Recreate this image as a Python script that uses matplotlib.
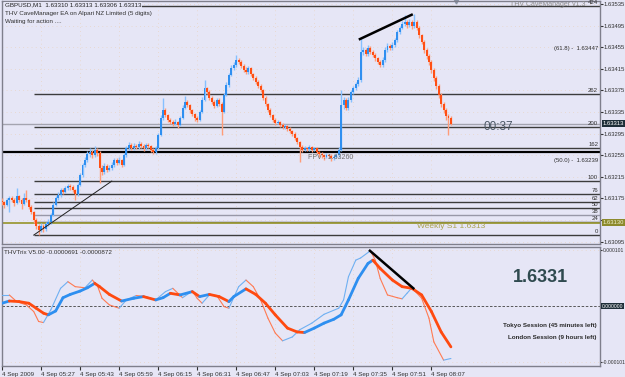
import numpy as np
import matplotlib.pyplot as plt
from matplotlib.collections import LineCollection

# ---- data (prices in points above 1.63000, one M1 bar each) ----
base = 1.63
first_open = 170
closes = [
    168, 163, 172, 176, 172, 166, 179, 172, 165, 176,
    172, 159, 150, 135, 124, 116, 124, 118, 128, 131,
    144, 163, 176, 181, 191, 187, 194, 198, 196, 191,
    183, 200, 218, 237, 246, 257, 261, 255, 265, 259,
    231, 224, 235, 228, 231, 237, 246, 241, 246, 237,
    255, 268, 274, 268, 272, 270, 276, 272, 268, 274,
    272, 265, 261, 268, 292, 324, 339, 329, 320, 317,
    313, 317, 311, 324, 342, 354, 348, 339, 331, 324,
    320, 335, 357, 379, 372, 361, 354, 346, 357, 350,
    335, 367, 385, 404, 417, 422, 431, 428, 420, 413,
    409, 417, 405, 398, 391, 383, 376, 361, 350, 339,
    329, 320, 315, 317, 311, 307, 309, 304, 300, 294,
    287, 279, 270, 265, 268, 266, 270, 265, 268, 261,
    257, 255, 252, 255, 254, 250, 252, 255, 265, 348,
    357, 342, 357, 372, 379, 387, 394, 446, 450, 442,
    454, 446, 441, 435, 428, 422, 431, 450, 457, 454,
    459, 468, 483, 491, 498, 502, 496, 502, 494, 502,
    491, 478, 465, 450, 439, 428, 413, 398, 383, 367,
    350, 339, 328, 324, 313]
highs = [
    176, 170, 176, 180, 179, 175, 195, 182, 175, 185,
    190, 174, 162, 152, 138, 128, 130, 127, 132, 136,
    148, 168, 180, 186, 195, 194, 198, 202, 201, 199,
    193, 204, 222, 241, 252, 263, 268, 265, 272, 268,
    262, 236, 240, 238, 236, 242, 250, 249, 251, 248,
    259, 272, 279, 277, 277, 276, 281, 279, 275, 278,
    277, 274, 268, 272, 296, 330, 361, 342, 332, 324,
    320, 322, 319, 328, 347, 365, 357, 350, 341, 334,
    327, 339, 362, 394, 382, 375, 364, 357, 361, 360,
    353, 371, 390, 408, 422, 428, 441, 435, 431, 424,
    418, 421, 419, 408, 401, 394, 386, 378, 364, 352,
    342, 332, 323, 321, 319, 314, 312, 311, 307, 302,
    297, 289, 282, 273, 272, 271, 274, 272, 271, 270,
    263, 260, 258, 259, 258, 257, 256, 259, 270, 376,
    362, 360, 362, 376, 384, 391, 399, 472, 456, 453,
    459, 457, 449, 444, 437, 431, 436, 455, 462, 460,
    464, 472, 487, 495, 503, 515, 505, 507, 505, 516,
    505, 494, 480, 468, 453, 442, 431, 416, 401, 386,
    370, 353, 342, 331, 328]
lows = [
    163, 158, 160, 150, 168, 160, 164, 168, 155, 162,
    168, 155, 146, 130, 118, 107, 112, 113, 115, 124,
    128, 142, 160, 172, 178, 183, 185, 191, 190, 186,
    172, 180, 198, 215, 233, 243, 252, 250, 252, 254,
    204, 219, 221, 223, 225, 228, 234, 236, 238, 233,
    235, 252, 265, 264, 265, 266, 267, 268, 263, 265,
    268, 261, 257, 258, 266, 290, 320, 325, 316, 313,
    309, 310, 306, 309, 322, 340, 344, 334, 327, 319,
    316, 318, 333, 355, 368, 357, 350, 342, 344, 346,
    292, 333, 364, 382, 401, 413, 419, 424, 416, 409,
    405, 406, 401, 394, 387, 379, 372, 357, 346, 335,
    325, 316, 311, 312, 307, 303, 304, 300, 296, 290,
    283, 275, 242, 261, 262, 262, 263, 261, 262, 257,
    252, 250, 246, 249, 249, 245, 246, 249, 252, 263,
    340, 338, 339, 353, 368, 375, 383, 390, 441, 438,
    439, 442, 436, 430, 423, 418, 419, 428, 446, 449,
    450, 455, 465, 480, 488, 494, 491, 492, 489, 490,
    486, 472, 460, 445, 434, 422, 408, 393, 378, 360,
    345, 333, 320, 292, 310]

time_labels = ["4 Sep 2009", "4 Sep 05:27", "4 Sep 05:43", "4 Sep 05:59",
               "4 Sep 06:15", "4 Sep 06:31", "4 Sep 06:47", "4 Sep 07:03",
               "4 Sep 07:19", "4 Sep 07:35", "4 Sep 07:51", "4 Sep 08:07"]

# fibonacci drawn from the swing low (bar 13) to bar 45
fib_bars = [13, 45]
fib_prices = [1.63107, 1.63207]
fib_levels = [0, 24, 38, 50, 62, 76, 100, 162, 200, 262, 424]

fpv = 1.63260
last_price = 1.63313
weekly_s1 = 1.6313
top_trend_bars = [146.7, 167.9]
top_trend_prices = [1.63470, 1.63515]

# THVTrix (values in 1e-6)
slow_bars = [0, 3, 7, 11, 14, 17, 19, 22, 25, 28, 32, 35, 38, 40, 44, 49, 54, 58,
             63, 66, 69, 73, 78, 81, 85, 89, 93, 95, 100, 104, 108, 112, 117, 121,
             124, 128, 132, 136, 139, 142, 146, 150, 152, 155, 160, 164, 168, 172,
             176, 180, 184]
slow_vals = [5, 9, 8, 5, -4, -13, -16, -9, 15, 21, 27, 33, 41, 35, 21, 9, 14, 17,
             11, 15, 23, 20, 26, 17, 21, 17, 8, 17, 31, 21, 5, -16, -40, -47,
             -48, -40, -31, -24, -16, 11, 50, 77, 83, 68, 47, 35, 32, 20,
             -10, -47, -74]
fast_bars = [0, 3, 6, 10, 13, 15, 17, 20, 24, 27, 30, 34, 37, 39, 41, 44, 48, 51,
             55, 59, 63, 67, 70, 74, 78, 80, 82, 85, 88, 91, 93, 97, 100, 103, 106,
             109, 112, 115, 119, 122, 127, 132, 138, 140, 142, 145, 147, 151, 153,
             155, 158, 162, 164, 166, 168, 172, 175, 177, 181, 184]
fast_vals = [20, 20, 8, 2, -10, -28, -30, -7, 32, 44, 35, 33, 47, 38, 14, 2, -4, 11,
             19, 17, 11, 26, 32, 15, 27, 14, 5, 20, 19, -1, -4, 35, 47, 35, 11,
             -22, -49, -63, -56, -43, -31, -15, -4, 11, 53, 83, 87, 100, 83,
             50, 20, 15, 13, 23, 33, 14, -22, -65, -98, -95]
ind_trend_bars = [150.8, 168.6]
ind_trend_vals = [100, 32]

# ---- figure ----
bg = '#E6E6F6'
W, H = 625, 377
fig = plt.figure(figsize=(W / 100, H / 100), dpi=100, facecolor=bg)
plt.rcParams['font.family'] = ['Liberation Sans', 'DejaVu Sans']


def px_axes(x0, y0, x1, y1):
    return fig.add_axes([x0 / W, 1 - y1 / H, (x1 - x0) / W, (y1 - y0) / H])


def ftext(x, y, s, **kw):
    kw.setdefault('va', 'center')
    kw.setdefault('fontsize', 4.5)
    kw.setdefault('color', '#303030')
    return fig.text(x / W, 1 - y / H, s, **kw)


ax = px_axes(2, 1, 600, 244)
ax2 = px_axes(2, 247, 600, 366)
for a in (ax, ax2):
    a.set_facecolor(bg)
    for s in a.spines.values():
        s.set_color('#7F7F8C')
        s.set_linewidth(1.0)
    a.set_xlim(0, 245.1)

# candles
c = base + np.array(closes) / 1e5
o = np.r_[base + first_open / 1e5, c[:-1]]
hi = base + np.array(highs) / 1e5
lo = base + np.array(lows) / 1e5
x = np.arange(len(c))
up = c >= o
wick_cols = np.where(up, '#86C0FF', '#FF9C78')
body_cols = np.where(up, '#2F8FF0', '#FF4F14')
ax.vlines(x, lo, hi, colors=wick_cols, lw=1.0, zorder=3)
ax.bar(x, np.maximum(np.abs(c - o), 0.000015), bottom=np.minimum(o, c),
       width=0.8, color=body_cols, lw=0, zorder=4)

# fib levels
f0, f1 = fib_prices
for lvl in fib_levels:
    p = f0 + (f1 - f0) * lvl / 100
    col = '#9898A8' if lvl == 38 else '#3C3C3C'
    ax.hlines(p, fib_bars[0], 245.1, color=col, lw=1.0, zorder=2)
    ax.text(244.3, p + 0.000012, str(lvl), ha='right', va='bottom',
            fontsize=4.3, color='#303030', zorder=5)
ax.plot(fib_bars, fib_prices, color='#202020', lw=0.7, zorder=5)
ax.text(244.3, 1.63447 + 0.00001, '(61.8) -  1.63447', ha='right', va='bottom',
        fontsize=4.3, color='#303030')
ax.text(244.3, 1.63239 + 0.00001, '(50.0) -  1.63239', ha='right', va='bottom',
        fontsize=4.3, color='#303030')

ax.axhline(last_price, color='#A4A4B0', lw=1.0, zorder=2)
ax.axhline(fpv, color='#000000', lw=1.6, zorder=2)
ax.axhline(weekly_s1, color='#9C9A38', lw=1.3, zorder=2)
ax.plot(top_trend_bars, top_trend_prices, color='#000000', lw=1.8, zorder=6)
ax.text(125.4, fpv - 0.00002, 'FPV : 1.63260', ha='left', va='top',
        fontsize=5, color='#6E6E6E', zorder=6)
ax.text(198, weekly_s1 - 0.000015, 'Weekly S1 1.6313', ha='right', va='top',
        fontsize=6, color='#ABA354', zorder=6)
ax.plot([186.1], [1], marker='v', ms=3.5, color='#8A94A6',
        transform=ax.get_xaxis_transform(), clip_on=False)

ax.set_ylim(1.630905, 1.635405)
yt = [1.63535 - 0.0004 * k for k in range(12)]
ax.set_yticks(yt)
# the 1.63135 label sits under the weekly S1 price box
ax.set_yticklabels(['' if abs(v - weekly_s1) < 0.0001 else f'{v:.5f}' for v in yt])
ax.yaxis.tick_right()
ax.tick_params(axis='y', direction='out', length=2, pad=0.8, labelsize=4.2,
               colors='#303030')
ax.set_xticks(np.arange(0, 185, 16))
ax.tick_params(axis='x', length=0, labelbottom=False)
ax.grid(True, color='#E9CDB0', lw=0.5, ls=(0, (1, 5)))
ax.set_axisbelow(True)

ytr = ax.get_yaxis_transform()
ax.text(1.004, last_price, '1.63313', transform=ytr, ha='left', va='center',
        fontsize=4.2, color='white', clip_on=False, zorder=10,
        bbox=dict(boxstyle='square,pad=0.15', fc='#1E2E38', ec='none'))
ax.text(1.004, weekly_s1, '1.63130', transform=ytr, ha='left', va='center',
        fontsize=4.2, color='#F0F0D0', clip_on=False, zorder=10,
        bbox=dict(boxstyle='square,pad=0.15', fc='#8C8A2C', ec='none'))


# indicator
def slope_lines(a, xs, ys, up_c, dn_c, lw):
    pts = np.column_stack([xs, ys])
    segs = np.stack([pts[:-1], pts[1:]], axis=1)
    cols = [up_c if d >= 0 else dn_c for d in np.diff(ys)]
    a.add_collection(LineCollection(segs, colors=cols, linewidths=lw,
                                    capstyle='round', joinstyle='round', zorder=4))


ax2.axhline(0, color='#404040', lw=0.6, ls=(0, (3, 2)), zorder=2)
slope_lines(ax2, fast_bars, fast_vals, '#6FB0F2', '#FF7A52', 0.8)
slope_lines(ax2, slow_bars, slow_vals, '#2E8FF0', '#FF4A10', 2.0)
ax2.plot(ind_trend_bars, ind_trend_vals, color='#000000', lw=1.8, zorder=6)
ax2.set_ylim(-108.6, 106.8)
ax2.set_yticks([101, -101])
ax2.set_yticklabels(['0.000101', '-0.000101'])
ax2.yaxis.tick_right()
ax2.tick_params(axis='y', direction='out', length=1.5, pad=0.5, labelsize=3.6,
                colors='#303030')
ax2.set_xticks(np.arange(0, 185, 16))
ax2.set_xticklabels(time_labels)
ax2.tick_params(axis='x', direction='out', length=3, pad=1, labelsize=4.5,
                colors='#303030')
for lbl in ax2.get_xticklabels():
    lbl.set_ha('left')
ax2.grid(True, color='#E9CDB0', lw=0.5, ls=(0, (1, 5)))
ax2.set_axisbelow(True)
ax2.text(1.003, 0, '0.000000', transform=ax2.get_yaxis_transform(), ha='left',
         va='center', fontsize=3.6, color='white', clip_on=False, zorder=10,
         bbox=dict(boxstyle='square,pad=0.15', fc='#1E2E38', ec='none'))

# labels
ftext(5, 5, 'GBPUSD,M1  1.63310 1.63313 1.63306 1.63313', color='#202020',
      bbox=dict(boxstyle='square,pad=0.1', fc=bg, ec='none'))
ftext(5, 13, 'THV CaveManager EA on Alpari NZ Limited (5 digits)')
ftext(5, 22, 'Waiting for action ....')
ftext(586, 5, 'THV CaveManager v1.3', ha='right', fontsize=5, color='#8A8A8A')
ftext(483, 127, '00:37', fontsize=8.5, color='#4C5866')
ftext(4, 252, 'THVTrix V5.00 -0.0000691 -0.0000872')
ftext(540, 277, '1.6331', ha='center', fontsize=13, fontweight='bold',
      color='#2F4A4F')
ftext(597, 326, 'Tokyo Session (45 minutes left)', ha='right', fontweight='bold',
      color='#2A2A2A')
ftext(597, 338, 'London Session (9 hours left)', ha='right', fontweight='bold',
      color='#2A2A2A')

fig.savefig('out.png', dpi=100, facecolor=bg)
